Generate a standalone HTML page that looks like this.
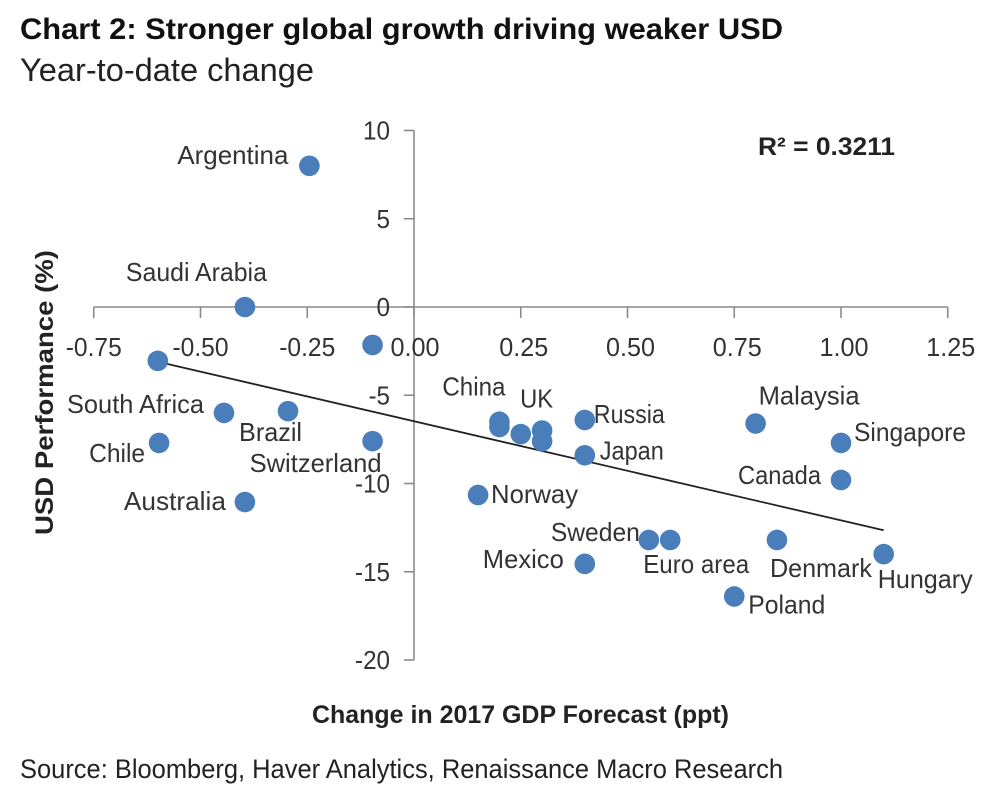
<!DOCTYPE html>
<html lang="en">
<head>
<meta charset="utf-8">
<title>Chart 2: Stronger global growth driving weaker USD</title>
<style>
html,body{margin:0;padding:0;background:#fff;width:1000px;height:806px;overflow:hidden}
svg{display:block}
text{font-family:"Liberation Sans",sans-serif;fill:#333}
</style>
</head>
<body>
<svg id="chart" xmlns="http://www.w3.org/2000/svg" width="1000" height="806" viewBox="0 0 1000 806">
  <rect x="0" y="0" width="1000" height="806" fill="#fff"/>
  <text x="20" y="39" font-size="30" font-weight="700" style="fill:#111" textLength="763" lengthAdjust="spacingAndGlyphs">Chart 2: Stronger global growth driving weaker USD</text>
  <text x="20" y="81" font-size="32" style="fill:#222" textLength="294" lengthAdjust="spacingAndGlyphs">Year-to-date change</text>
  <text transform="translate(53,535) rotate(-90)" font-size="25" font-weight="700" style="fill:#222" textLength="285" lengthAdjust="spacingAndGlyphs">USD Performance (%)</text>
  <text x="312" y="723" font-size="25" font-weight="700" style="fill:#222" textLength="417" lengthAdjust="spacingAndGlyphs">Change in 2017 GDP Forecast (ppt)</text>
  <text x="758" y="155" font-size="25" font-weight="700" style="fill:#222" textLength="137" lengthAdjust="spacingAndGlyphs">R² = 0.3211</text>
  <text x="20" y="778" font-size="27" style="fill:#222" textLength="763" lengthAdjust="spacingAndGlyphs">Source: Bloomberg, Haver Analytics, Renaissance Macro Research</text>
  <g id="axes"></g>
  <g id="trend"></g>
  <g id="points"></g>
  <g id="labels"></g>
</svg>
<script>
const countries = ["Argentina","Saudi Arabia","Unlabeled A","Unlabeled B","South Africa","Brazil","Chile","Switzerland","Australia","China","Unlabeled C","Unlabeled D","UK","Unlabeled E","Russia","Japan","Norway","Malaysia","Singapore","Canada","Sweden","Euro area","Denmark","Mexico","Poland","Hungary"];
const gdpChange = [-0.245,-0.396,-0.097,-0.6,-0.445,-0.295,-0.597,-0.097,-0.396,0.2,0.2,0.25,0.3,0.3,0.4,0.4,0.15,0.8,1.0,1.0,0.55,0.6,0.85,0.4,0.75,1.1];
const usdPerformance = [8.0,0,-2.15,-3.05,-6.0,-5.9,-7.7,-7.6,-11.05,-6.5,-6.8,-7.2,-7.0,-7.6,-6.4,-8.4,-10.65,-6.6,-7.7,-9.8,-13.2,-13.2,-13.2,-14.55,-16.4,-14.0];
const xTicks = [-0.75,-0.5,-0.25,0,0.25,0.5,0.75,1.0,1.25];
const xTickLabels = ["-0.75","-0.50","-0.25","0.00","0.25","0.50","0.75","1.00","1.25"];
const yTicks = [10,5,0,-5,-10,-15,-20];
const yTickLabels = ["10","5","0","-5","-10","-15","-20"];
const trendX = [-0.6,1.1];
const trendY = [-3.1,-12.65];

const NS = "http://www.w3.org/2000/svg";
function sx(v){ return 414 + v * 427; }
function sy(v){ return 307 - v * 17.65; }
function make(tag, parent, attrs){
  const el = document.createElementNS(NS, tag);
  for (const k in attrs) el.setAttribute(k, attrs[k]);
  parent.appendChild(el);
  return el;
}

function drawAxes(){
  const g = document.getElementById("axes");
  const color = "#8a8a8a";
  const xLine = make("line", g, {x1:sx(-0.75),x2:sx(1.25),y1:sy(0),y2:sy(0),stroke:color,"stroke-width":1.6});
  
  
  const yLine = make("line", g, {x1:sx(0),x2:sx(0),y1:sy(10),y2:sy(-20),stroke:color,"stroke-width":1.6});
  
  
  xTicks.forEach(function(t,i){
    const tick = make("line", g, {x1:sx(t),x2:sx(t),y1:sy(0),y2:sy(0)+11,stroke:color,"stroke-width":1.6});
    
    
    const lab = make("text", g, {x:sx(t)+(t>0?3:(t===0?1:0)),y:356,"font-size":26,"text-anchor":"middle",textLength:xTickLabels[i].length>4?56:49,lengthAdjust:"spacingAndGlyphs"});
    lab.textContent = xTickLabels[i];
    
    
  });
  yTicks.forEach(function(t,i){
    const s = yTickLabels[i];
    const width = s.replace("-","").length * 13.5 + (s.indexOf("-") === 0 ? 8 : 0);
    const tick = make("line", g, {x1:sx(0)-10,x2:sx(0),y1:sy(t),y2:sy(t),stroke:color,"stroke-width":1.6});
    
    
    const lab = make("text", g, {x:390-width,y:sy(t)+9,"font-size":26,textLength:width,lengthAdjust:"spacingAndGlyphs"});
    lab.textContent = s;
    
    
  });
}

function drawTrend(){
  const g = document.getElementById("trend");
  const line = make("line", g, {x1:sx(trendX[0]),y1:sy(trendY[0]),x2:sx(trendX[1]),y2:sy(trendY[1]),stroke:"#222","stroke-width":1.8});
  
  
}

function drawPoints(){
  const g = document.getElementById("points");
  gdpChange.forEach(function(v,i){
    const c = make("circle", g, {cx:sx(v),cy:sy(usdPerformance[i]),r:10.3,fill:"#4a7ebb"});
    
    
    const tip = make("title", c, {});
    tip.textContent = countries[i];
  });
}

function drawLabels(){
  const g = document.getElementById("labels");
  /* label layout relative to each point: [dx, dy, rendered width] */
  const layout = {
    "Argentina":[-132,-2,111],"Saudi Arabia":[-119,-26,141],"South Africa":[-157,0,137],
    "Brazil":[-49,30,63],"Chile":[-70,19,56],"Switzerland":[-123,31,132],"Australia":[-121,8,102],
    "China":[-57,-26,63],"UK":[-22,-23,33],"Russia":[9,3,71],"Japan":[15,4,64],"Norway":[13,8,87],
    "Malaysia":[3,-19,101],"Singapore":[13,-2,112],"Canada":[-103,4,83],"Sweden":[-98,1,89],
    "Euro area":[-27,33,106],"Denmark":[-7,37,102],"Mexico":[-102,4,81],"Poland":[14,17,77],"Hungary":[-6,34,95]
  };
  countries.forEach(function(name,i){
    const l = layout[name];
    if (!l) return;
    const t = make("text", g, {x:sx(gdpChange[i])+l[0],y:sy(usdPerformance[i])+l[1],"font-size":26,textLength:l[2],lengthAdjust:"spacingAndGlyphs"});
    t.textContent = name;
    
    
  });
}

drawAxes();
drawTrend();
drawPoints();
drawLabels();
</script>
</body>
</html>
